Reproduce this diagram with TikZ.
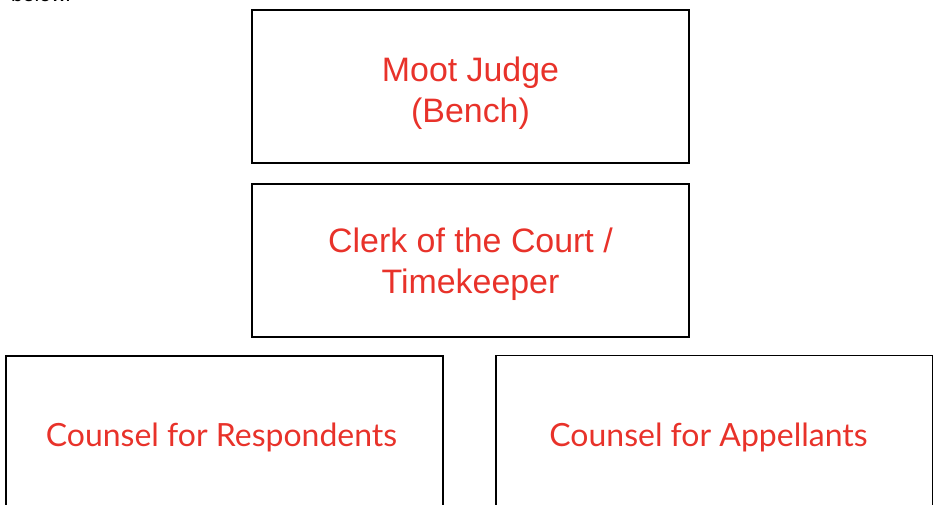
\documentclass[tikz,border=0pt]{standalone}
\usepackage{fontspec}
\usepackage{xcolor}
\setmainfont{Liberation Sans}
\newfontfamily\counselfont{Lato}
\usetikzlibrary{positioning}
\definecolor{mootred}{HTML}{E8322A}
\tikzset{
    rolebox/.style={draw, line width=1.1pt, minimum width=8.74cm, minimum height=3.06cm,
        align=center, text=mootred, font=\fontsize{19.3}{23.4}\selectfont},
    counselbox/.style={rolebox, font=\counselfont\fontsize{18.2}{22}\selectfont}
}

\begin{document}
\begin{tikzpicture}
    	\useasboundingbox (0,0) rectangle (18.66,-10.08);
    	\node[anchor=base west, font=\fontsize{12}{14}\selectfont] (note) at (0.1,-0.04) {below.};
    	\node[rolebox] (judge) at (9.41,-1.73) {};
    	\node[text=mootred, align=center, font=\fontsize{19.3}{23.4}\selectfont] (judgetext) at ([yshift=-0.14cm]judge.center) {Moot Judge\\(Bench)};
    	\node[rolebox, below=0.38cm of judge.south, anchor=north] (clerk) {};
    	\node[text=mootred, align=center, font=\fontsize{19.3}{23.4}\selectfont] (clerktext) at ([yshift=-0.08cm]clerk.center) {Clerk of the Court /\\Timekeeper};
    	\node[counselbox] (respondents) at (4.49,-8.65) {};
    	\node[text=mootred, font=\counselfont\fontsize{18.2}{22}\selectfont] (respondentstext) at ([xshift=-0.06cm,yshift=-0.1cm]respondents.center) {Counsel for Respondents};
    	\node[counselbox] (appellants) at (14.29,-8.64) {};
    	\node[text=mootred, font=\counselfont\fontsize{18.2}{22}\selectfont] (appellantstext) at ([xshift=-0.12cm,yshift=-0.1cm]appellants.center) {Counsel for Appellants};
\end{tikzpicture}
\end{document}
